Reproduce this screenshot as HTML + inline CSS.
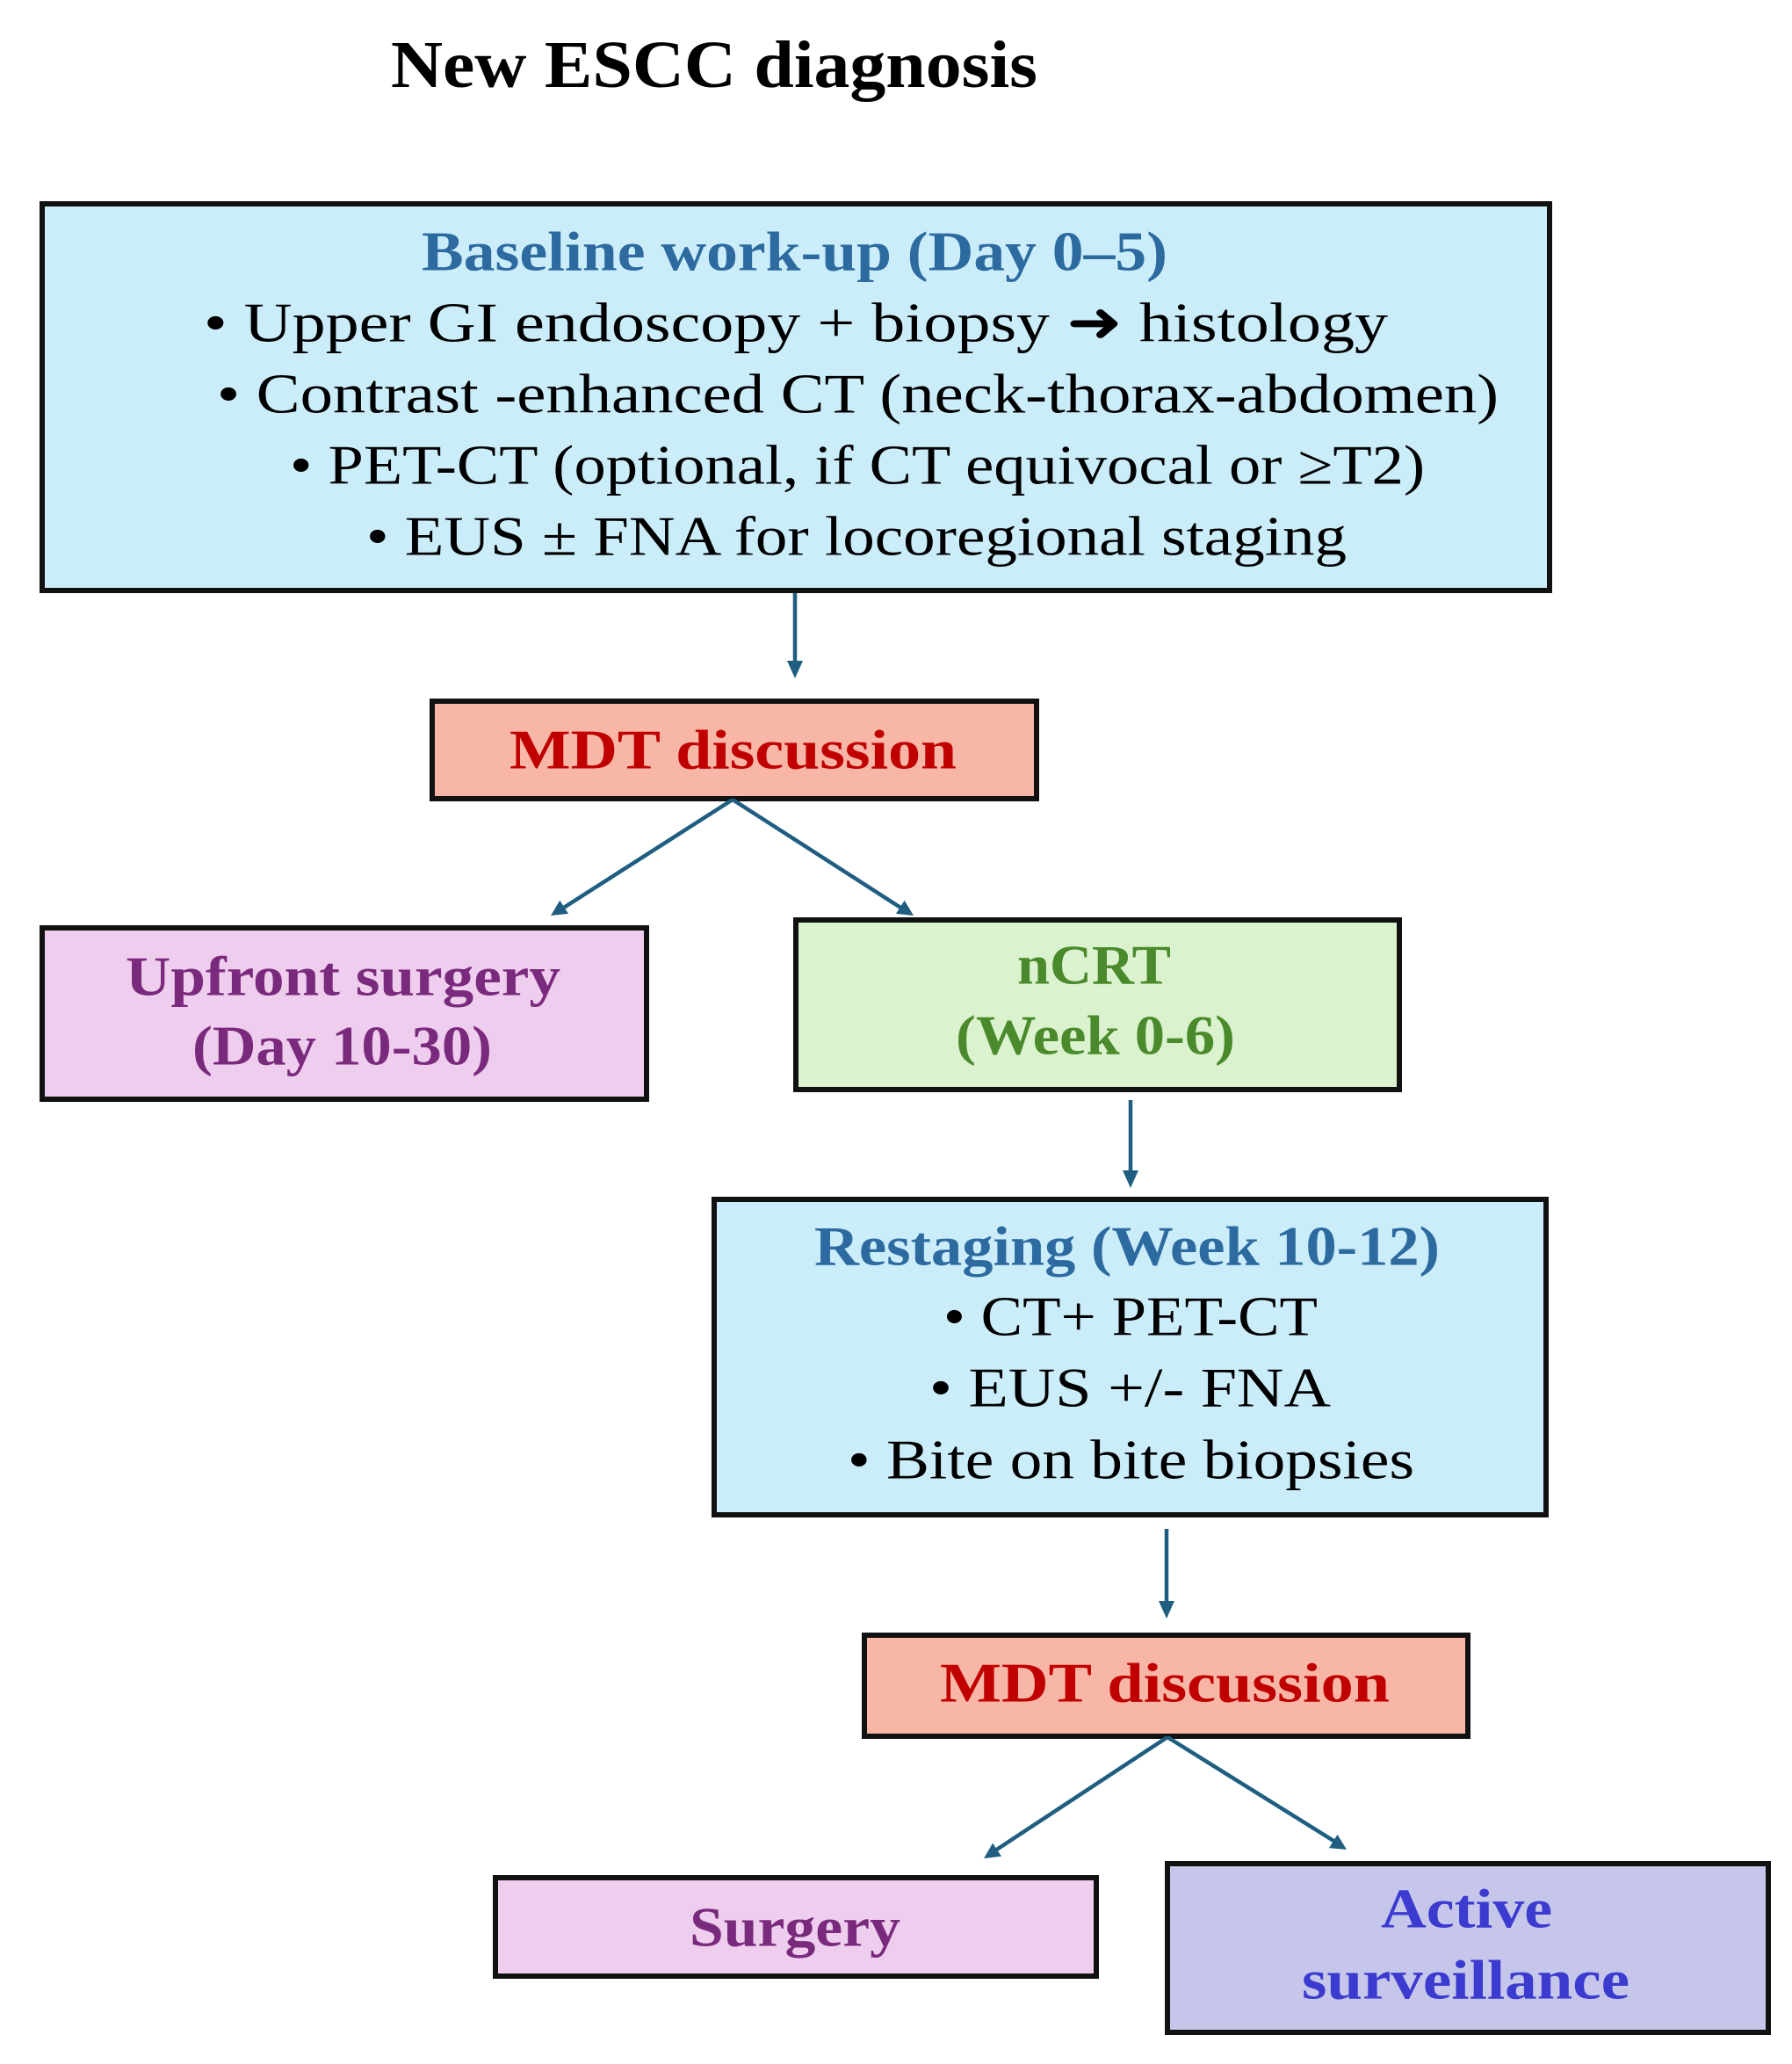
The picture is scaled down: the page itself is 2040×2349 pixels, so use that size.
<!DOCTYPE html>
<html><head><meta charset="utf-8"><style>
html,body{margin:0;padding:0;background:#fff;}
svg{display:block;}
text{font-family:"Liberation Serif",serif;dominant-baseline:central;}
.b{font-weight:bold;}
</style></head><body>
<svg width="2040" height="2349" viewBox="0 0 2040 2349" xmlns="http://www.w3.org/2000/svg">
<g font-size="64" transform="translate(0,-2)">
<text class="b" x="445" y="76" font-size="76" textLength="736" lengthAdjust="spacingAndGlyphs">New ESCC diagnosis</text>
</g>
<g stroke="#111" stroke-width="6">
<rect x="48" y="232" width="1716" height="440" fill="#cbedfa"/>
<rect x="492" y="798" width="688" height="111" fill="#f8b6a6"/>
<rect x="48" y="1056" width="688" height="195" fill="#efcdee"/>
<rect x="906" y="1047" width="687" height="193" fill="#daf2cd"/>
<rect x="813" y="1365" width="947" height="359" fill="#cbedfa"/>
<rect x="984" y="1861" width="687" height="115" fill="#f8b6a6"/>
<rect x="564" y="2137" width="684" height="112" fill="#efcdee"/>
<rect x="1329" y="2121" width="684" height="192" fill="#c6c6ea"/>
</g>
<g font-size="64" transform="translate(0,-2)">
<text class="b" x="480" y="288" fill="#2c6aa0" textLength="849" lengthAdjust="spacingAndGlyphs">Baseline work-up (Day 0–5)</text>
<text x="232" y="369" textLength="1348" lengthAdjust="spacingAndGlyphs">• Upper GI endoscopy + biopsy  ➜ histology</text>
<text x="247" y="450" textLength="1459" lengthAdjust="spacingAndGlyphs">• Contrast -enhanced CT (neck-thorax-abdomen)</text>
<text x="330" y="531" textLength="1292" lengthAdjust="spacingAndGlyphs">• PET-CT (optional, if CT equivocal or ≥T2)</text>
<text x="417" y="612" textLength="1116" lengthAdjust="spacingAndGlyphs">• EUS ± FNA for locoregional staging</text>

<text class="b" x="580" y="855" fill="#c00000" textLength="509" lengthAdjust="spacingAndGlyphs">MDT discussion</text>

<text class="b" x="143" y="1113" fill="#7a2a7c" textLength="495" lengthAdjust="spacingAndGlyphs">Upfront surgery</text>
<text class="b" x="219" y="1192" fill="#7a2a7c" textLength="341" lengthAdjust="spacingAndGlyphs">(Day 10-30)</text>

<text class="b" x="1158" y="1100" fill="#4a8a2c" textLength="175" lengthAdjust="spacingAndGlyphs">nCRT</text>
<text class="b" x="1088" y="1180" fill="#4a8a2c" textLength="318" lengthAdjust="spacingAndGlyphs">(Week 0-6)</text>

<text class="b" x="927" y="1420" fill="#2c6aa0" textLength="712" lengthAdjust="spacingAndGlyphs">Restaging (Week 10-12)</text>
<text x="1074" y="1500" textLength="426" lengthAdjust="spacingAndGlyphs">• CT+ PET-CT</text>
<text x="1058" y="1581" textLength="457" lengthAdjust="spacingAndGlyphs">• EUS +/- FNA</text>
<text x="965" y="1663" textLength="645" lengthAdjust="spacingAndGlyphs">• Bite on bite biopsies</text>

<text class="b" x="1070" y="1917" fill="#c00000" textLength="512" lengthAdjust="spacingAndGlyphs">MDT discussion</text>

<text class="b" x="785" y="2195" fill="#7a2a7c" textLength="240" lengthAdjust="spacingAndGlyphs">Surgery</text>

<text class="b" x="1572" y="2174" fill="#3b3bd0" textLength="195" lengthAdjust="spacingAndGlyphs">Active</text>
<text class="b" x="1482" y="2255" fill="#3b3bd0" textLength="373" lengthAdjust="spacingAndGlyphs">surveillance</text>
</g>

<g stroke="#1f5e80" stroke-width="4.5" fill="none">
<line x1="905" y1="675" x2="905" y2="760"/>
<line x1="834" y1="910" x2="637" y2="1036"/>
<line x1="834" y1="910" x2="1030" y2="1036"/>
<line x1="1287" y1="1252" x2="1287" y2="1338"/>
<line x1="1328" y1="1740" x2="1328" y2="1828"/>
<line x1="1329" y1="1977" x2="1130" y2="2108"/>
<line x1="1329" y1="1977" x2="1523" y2="2098"/>
</g>
<g fill="#1f5e80">
<polygon points="896,752 914,752 905,772"/>
<polygon points="1278,1332 1296,1332 1287,1352"/>
<polygon points="1319,1822 1337,1822 1328,1842"/>
<g transform="translate(627,1042) rotate(147.4)"><polygon points="0,0 -18,-9 -18,9"/></g>
<g transform="translate(1040,1042) rotate(32.6)"><polygon points="0,0 -18,-9 -18,9"/></g>
<g transform="translate(1120,2115) rotate(146.6)"><polygon points="0,0 -18,-9 -18,9"/></g>
<g transform="translate(1533,2105) rotate(32)"><polygon points="0,0 -18,-9 -18,9"/></g>
</g>
</svg>
</body></html>
